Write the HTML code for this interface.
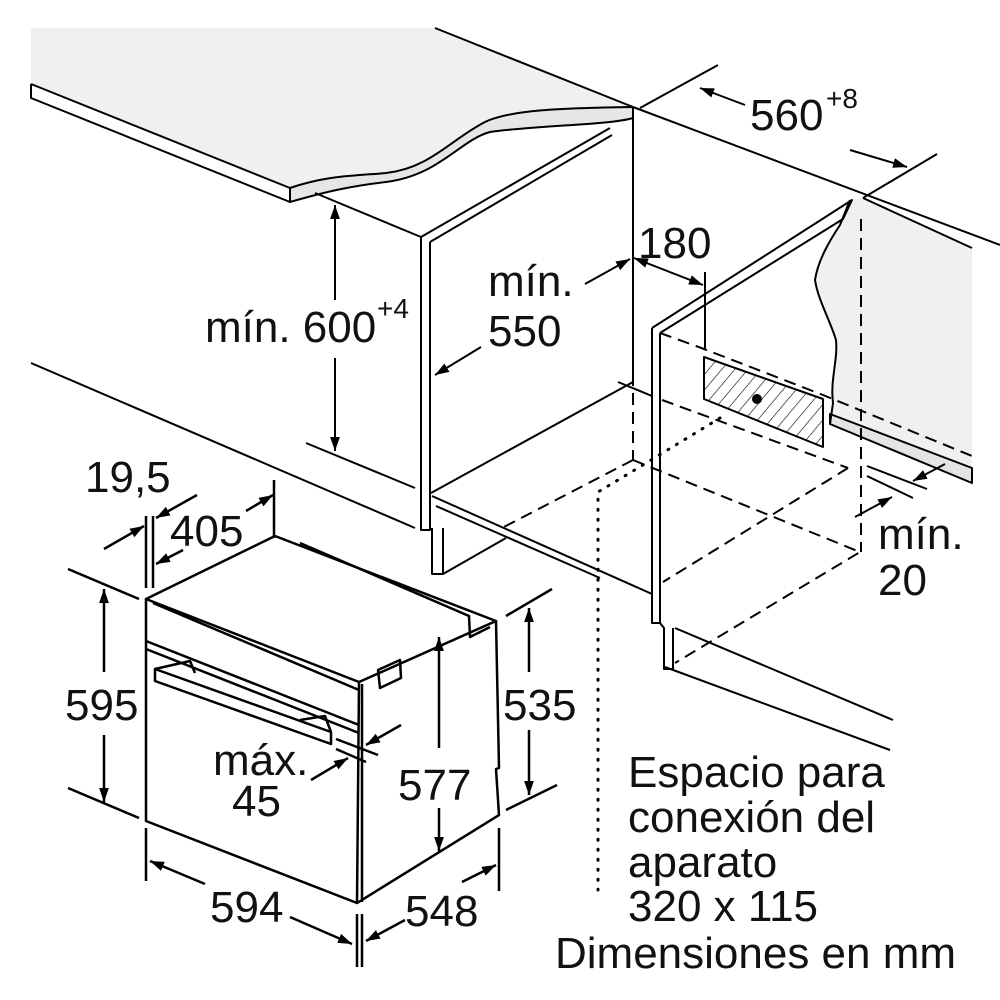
<!DOCTYPE html>
<html><head><meta charset="utf-8"><style>
html,body{margin:0;padding:0;background:#fff}
svg{display:block}
text{font-family:"Liberation Sans",sans-serif;font-size:44px;fill:#111}
</style></head><body>
<svg width="1000" height="1000" viewBox="0 0 1000 1000" xmlns="http://www.w3.org/2000/svg">
<defs>
<marker id="a" viewBox="0 0 10 10" refX="10" refY="5" markerWidth="14" markerHeight="14" markerUnits="userSpaceOnUse" orient="auto-start-reverse"><path d="M0,1.5 L10,5 L0,8.5 Z" fill="#000"/></marker>
<pattern id="h" width="10" height="10" patternUnits="userSpaceOnUse" patternTransform="rotate(40)"><line x1="0" y1="0" x2="0" y2="10" stroke="#000" stroke-width="1.2"/></pattern>
</defs>
<g fill="none" stroke="#000" stroke-width="2" stroke-linejoin="round">
<!-- countertop -->
<path d="M31,28 L435,28 L633,107 C560,108 510,110 485,122 C450,140 430,168 386,173 C350,176 325,176 290,188 L31,84 Z" fill="#f0f0f0" stroke="none"/>
<path d="M290,188 L290,202 C325,192 350,186 386,182 C440,175 460,140 490,132 C540,125 610,125 633,118 L633,107 C560,108 510,110 485,122 C450,140 430,168 386,173 C350,176 325,176 290,188 Z" fill="#e6e6e6"/>
<path d="M435,28 L633,107 L1000,245"/>
<path d="M31,84 L290,188"/>
<path d="M31,84 L31,98 L290,202"/>
<!-- left cabinet -->
<path d="M633,107 L633,374"/>
<path d="M315,193 L421,237 L610,128"/>
<path d="M430,242 L612,135"/>
<path d="M421,237 L421,530 L430,530 L430,242"/>
<path d="M31,363 L415,528"/>
<path d="M306,443 L415,488"/>
<path d="M431,493 L633,382"/>
<path d="M432,496 L652,594"/>
<path d="M436,506 L600,578"/>
<path d="M432,528 L432,574 L443,574 L443,528"/>
<path d="M443,574 L506,538"/>
<path d="M618,382 L652,396"/>
<!-- right cabinet -->
<path d="M863,198 L972,248 L972,468 L830,414 L833,403 C830,380 838,360 836,340 C830,320 818,300 815,280 C818,260 830,240 840,225 L850,200 Z" fill="#f0f0f0" stroke="none"/>
<path d="M830,414 L972,468 L972,483 L830,424 Z" fill="#e4e4e4"/>
<path d="M850,200 L840,225 C830,240 818,260 815,280 C818,300 830,320 836,340 C838,360 830,380 833,403 L830,424"/>
<path d="M863,198 L972,248"/>
<path d="M652,328 L852,200 L843,219 L660,333"/>
<path d="M652,328 L652,623 L660,623 L660,333"/>
<path d="M660,623 L664,628 L664,669 L673,669 L673,628"/>
<path d="M675,628 L893,720"/>
<path d="M665,667 L890,750"/>
<path d="M704,357 L823,399 L823,447 L704,399 Z" fill="url(#h)"/>
<circle cx="757" cy="399" r="4" fill="#000"/>
<path d="M705,272 L705,349"/>
<!-- 560 -->
<path d="M640,108 L718,65"/>
<path d="M863,198 L937,154"/>
<path d="M745,105 L700,88" marker-end="url(#a)"/>
<path d="M850,150 L907,167" marker-end="url(#a)"/>
<!-- min 20 -->
<path d="M867,466 L927,489"/>
<path d="M867,476 L913,498"/>
<path d="M945,464 L913,481" marker-end="url(#a)"/>
<path d="M855,517 L892,497" marker-end="url(#a)"/>
<!-- 600 -->
<path d="M335,205 L335,300" marker-start="url(#a)"/>
<path d="M335,358 L335,451" marker-end="url(#a)"/>
<!-- 550 -->
<path d="M585,284 L630,259" marker-end="url(#a)"/>
<path d="M481,347 L435,375" marker-end="url(#a)"/>
<!-- 180 -->
<path d="M634,258 L703,285" marker-start="url(#a)" marker-end="url(#a)"/>
</g>
<g fill="none" stroke="#000" stroke-width="2" stroke-dasharray="12,7">
<path d="M633,374 L633,460"/>
<path d="M660,333 L704,349 L823,395 L972,456"/>
<path d="M662,400 L848,468"/>
<path d="M861,219 L861,552"/>
<path d="M633,460 L860,552 L675,663"/>
<path d="M633,460 L500,529"/>
<path d="M848,468 L663,582"/>
</g>
<path d="M720,418 L633,471 L598,492 L598,890" fill="none" stroke="#000" stroke-width="3" stroke-dasharray="1,9" stroke-linecap="round"/>
<!-- oven -->
<g fill="none" stroke="#000" stroke-width="2.5" stroke-linejoin="round">
<path d="M146,599 L275,536 L496,621 L359,682 Z" fill="#fff"/>
<path d="M300,543 L469,616 L470,637 L490,627"/>
<path d="M146,599 L146,821 L357,903 L359,682"/>
<path d="M153,603 L359,690"/>
<path d="M496,621 L499,768 L496,769 L499,815 L357,903"/>
<path d="M362,684 L362,902"/>
<path d="M146,641 L359,725"/>
<path d="M146,649 L359,733"/>
<path d="M155,669 L331,732 L331,744 L155,681 Z"/>
<path d="M155,669 L190,661 L195,673"/>
<path d="M300,720 L325,716 L331,732"/>
<path d="M378,670 L400,660 L401,678 L380,688 Z"/>
<!-- dims oven -->
<path d="M68,569 L139,599"/><path d="M68,788 L139,818"/>
<path d="M104,589 L104,672" marker-start="url(#a)"/><path d="M104,735 L104,802" marker-end="url(#a)"/>
<path d="M506,616 L552,589"/><path d="M506,810 L557,785"/>
<path d="M529,608 L529,672" marker-start="url(#a)"/><path d="M529,730 L529,795" marker-end="url(#a)"/>
<path d="M439,637 L439,748" marker-start="url(#a)"/><path d="M439,808 L439,851" marker-end="url(#a)"/>
<path d="M146,828 L146,881"/><path d="M357,914 L357,967"/><path d="M362,914 L362,967"/>
<path d="M150,861 L205,884" marker-start="url(#a)"/><path d="M290,917 L352,944" marker-end="url(#a)"/>
<path d="M499,828 L499,891"/>
<path d="M366,941 L405,920" marker-start="url(#a)"/><path d="M462,882 L496,865" marker-end="url(#a)"/>
<path d="M146,516 L146,588"/><path d="M153,516 L153,588"/><path d="M274,480 L274,538"/>
<path d="M104,549 L144,526" marker-end="url(#a)"/>
<path d="M197,495 L156,518" marker-end="url(#a)"/>
<path d="M183,550 L156,564" marker-end="url(#a)"/>
<path d="M246,511 L273,495" marker-end="url(#a)"/>
<path d="M336,739 L378,755"/><path d="M336,749 L366,762"/>
<path d="M401,725 L366,745" marker-end="url(#a)"/>
<path d="M311,780 L348,758" marker-end="url(#a)"/>
</g>
<!-- texts -->
<text x="205" y="342">mín. 600</text><text x="377" y="318" style="font-size:28px">+4</text>
<text x="488" y="296">mín.</text><text x="488" y="346">550</text>
<text x="638" y="258">180</text>
<text x="750" y="130">560</text><text x="826" y="108" style="font-size:28px">+8</text>
<text x="878" y="549">mín.</text><text x="878" y="595">20</text>
<text x="85" y="492">19,5</text>
<text x="170" y="546">405</text>
<text x="65" y="720">595</text>
<text x="503" y="720">535</text>
<text x="398" y="800">577</text>
<text x="213" y="775">máx.</text><text x="232" y="816">45</text>
<text x="210" y="922">594</text>
<text x="405" y="926">548</text>
<text x="628" y="787">Espacio para</text>
<text x="628" y="832">conexión del</text>
<text x="628" y="877">aparato</text>
<text x="628" y="921">320 x 115</text>
<text x="555" y="968">Dimensiones en mm</text>
</svg>
</body></html>
